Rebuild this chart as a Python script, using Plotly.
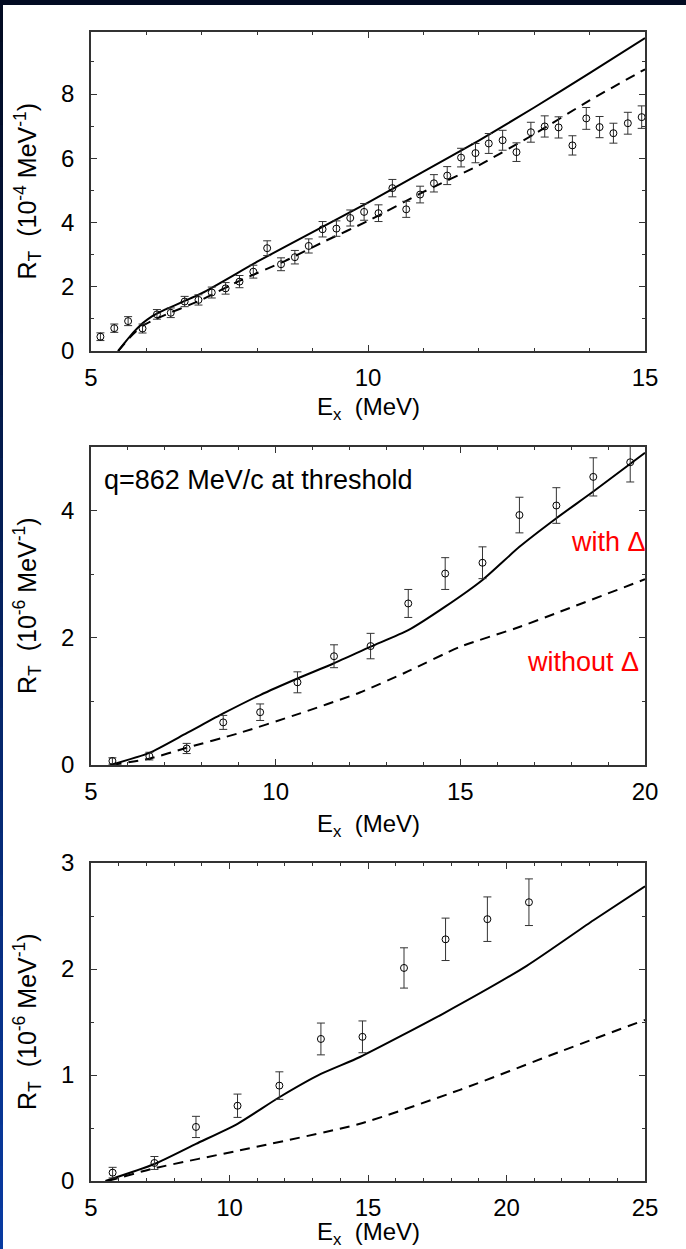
import plotly.graph_objects as go

# ---------------- data ----------------
# Panel 1 (R_T in 1e-4 MeV^-1)
p1_ex = [5.17, 5.42, 5.67, 5.93, 6.19, 6.44, 6.69, 6.94, 7.18, 7.43, 7.68, 7.93, 8.18, 8.43,
         8.68, 8.93, 9.18, 9.43, 9.68, 9.93, 10.19, 10.44, 10.69, 10.94, 11.19, 11.43, 11.68,
         11.94, 12.18, 12.43, 12.68, 12.94, 13.19, 13.44, 13.69, 13.94, 14.18, 14.43, 14.69, 14.94]
p1_rt = [0.445, 0.71, 0.93, 0.70, 1.14, 1.19, 1.54, 1.59, 1.82, 1.95, 2.16, 2.47, 3.20, 2.70,
         2.92, 3.27, 3.79, 3.81, 4.14, 4.33, 4.29, 5.07, 4.41, 4.87, 5.22, 5.46, 6.02,
         6.16, 6.46, 6.56, 6.19, 6.81, 6.99, 6.96, 6.40, 7.24, 6.97, 6.78, 7.09, 7.28]
p1_err = [0.12, 0.13, 0.14, 0.14, 0.15, 0.15, 0.16, 0.16, 0.17, 0.18, 0.19, 0.20, 0.23, 0.20,
          0.21, 0.22, 0.24, 0.24, 0.25, 0.26, 0.26, 0.27, 0.25, 0.26, 0.27, 0.28, 0.29,
          0.30, 0.31, 0.31, 0.29, 0.31, 0.33, 0.33, 0.30, 0.34, 0.33, 0.31, 0.34, 0.35]
p1_with_e = [5.49, 5.7, 5.93, 6.1, 6.25, 7.0, 8.0, 9.0, 10.0, 11.0, 12.0, 13.0, 14.0, 15.0]
p1_with_r = [0.0, 0.45, 0.86, 1.08, 1.22, 1.80, 2.78, 3.70, 4.62, 5.58, 6.55, 7.58, 8.65, 9.74]
p1_wo_e = [5.49, 5.7, 5.93, 6.2, 7.0, 7.7, 8.5, 9.2, 10.0, 11.0, 12.0, 13.0, 14.0, 15.0]
p1_wo_r = [0.0, 0.42, 0.78, 1.02, 1.60, 2.20, 2.80, 3.40, 4.05, 4.95, 5.78, 6.75, 7.80, 8.77]

# Panel 2 (R_T in 1e-6 MeV^-1), q = 862 MeV/c
p2_ex = [5.58, 6.58, 7.59, 8.58, 9.58, 10.59, 11.58, 12.57, 13.59, 14.59, 15.6, 16.6, 17.6, 18.6, 19.6]
p2_rt = [0.063, 0.14, 0.26, 0.67, 0.83, 1.30, 1.71, 1.87, 2.54, 3.01, 3.18, 3.93, 4.08, 4.53, 4.76]
p2_err = [0.05, 0.06, 0.08, 0.11, 0.13, 0.165, 0.18, 0.20, 0.22, 0.25, 0.25, 0.28, 0.28, 0.30, 0.31]
p2_with_e = [5.51, 6.58, 7.59, 8.58, 9.58, 10.59, 11.58, 12.57, 13.59, 14.59, 15.6, 16.6, 17.6, 18.6, 20.0]
p2_with_r = [0.0, 0.19, 0.50, 0.81, 1.10, 1.36, 1.60, 1.86, 2.12, 2.49, 2.91, 3.43, 3.88, 4.30, 4.91]
p2_wo_e = [5.55, 6.58, 7.59, 9.0, 10.5, 12.28, 13.5, 15.0, 16.5, 17.7, 20.0]
p2_wo_r = [0.0, 0.10, 0.27, 0.50, 0.78, 1.14, 1.45, 1.86, 2.15, 2.41, 2.92]

# Panel 3 (R_T in 1e-6 MeV^-1)
p3_ex = [5.78, 7.29, 8.79, 10.29, 11.80, 13.30, 14.80, 16.30, 17.80, 19.31, 20.81]
p3_rt = [0.079, 0.17, 0.51, 0.71, 0.90, 1.34, 1.36, 2.01, 2.28, 2.47, 2.63]
p3_err = [0.05, 0.061, 0.10, 0.11, 0.13, 0.15, 0.15, 0.19, 0.20, 0.21, 0.22]
p3_with_e = [5.52, 7.29, 8.79, 10.29, 11.8, 13.3, 14.71, 17.72, 20.73, 23.14, 25.0]
p3_with_r = [0.0, 0.16, 0.35, 0.54, 0.79, 1.01, 1.17, 1.58, 2.03, 2.46, 2.78]
p3_wo_e = [5.6, 7.29, 10.38, 14.71, 18.32, 21.93, 25.0]
p3_wo_r = [0.0, 0.12, 0.29, 0.54, 0.86, 1.22, 1.52]

x_ranges = [[5, 15], [5, 20], [5, 25]]
y_ranges = [[0, 9.93], [0, 5], [0, 3]]
y_dtick = [2, 2, 1]
y_minor = [1, 1, 0.5]
y_titles = ["R<sub>T</sub>\u00a0\u00a0(10<sup>-4</sup> MeV<sup>-1</sup>)",
            "R<sub>T</sub>\u00a0\u00a0(10<sup>-6</sup> MeV<sup>-1</sup>)",
            "R<sub>T</sub>\u00a0\u00a0(10<sup>-6</sup> MeV<sup>-1</sup>)"]
x_title = "E<sub>x</sub>\u00a0\u00a0(MeV)"
label_text = "q=862 MeV/c at threshold"
with_text = "with \u0394"
without_text = "without \u0394"

# ---------------- figure ----------------
W, H = 686, 1249
L, R, T, B = 91, 41, 32, 68
plot_h = H - T - B
bottom_px = H - B


def py(pix):
    return (bottom_px - pix) / plot_h


def px(pix):
    return (pix - L) / (W - L - R)


panels_px = [(32, 351), (447, 765), (863, 1181)]
FONT = "Liberation Sans, Arial, Helvetica, sans-serif"

fig = go.Figure()
datasets = [
    (p1_ex, p1_rt, p1_err, p1_with_e, p1_with_r, p1_wo_e, p1_wo_r),
    (p2_ex, p2_rt, p2_err, p2_with_e, p2_with_r, p2_wo_e, p2_wo_r),
    (p3_ex, p3_rt, p3_err, p3_with_e, p3_with_r, p3_wo_e, p3_wo_r),
]
for i, (ex, rt, err, we, wr, oe, orr) in enumerate(datasets):
    xa = "x" if i == 0 else f"x{i+1}"
    ya = "y" if i == 0 else f"y{i+1}"
    fig.add_trace(go.Scatter(x=oe, y=orr, mode="lines", xaxis=xa, yaxis=ya,
                             line=dict(color="black", width=2, dash="10px,7px",
                                       shape="spline", smoothing=0.6),
                             showlegend=False, hoverinfo="skip"))
    fig.add_trace(go.Scatter(x=we, y=wr, mode="lines", xaxis=xa, yaxis=ya,
                             line=dict(color="black", width=2, shape="spline", smoothing=0.6),
                             showlegend=False, hoverinfo="skip"))
    fig.add_trace(go.Scatter(x=ex, y=rt, mode="markers", xaxis=xa, yaxis=ya,
                             marker=dict(symbol="circle-open", size=7, color="black",
                                         line=dict(width=1, color="black")),
                             error_y=dict(type="data", array=err, visible=True,
                                          color="#333333", thickness=1, width=4),
                             showlegend=False))

common = dict(showline=True, linecolor="#333333", linewidth=1.5, mirror="ticks",
              ticks="inside", ticklen=6, tickwidth=1.2, tickcolor="#333333",
              showgrid=False, zeroline=False,
              tickfont=dict(family=FONT, size=24, color="black"))

layout = dict(width=W, height=H, autosize=False,
              margin=dict(l=L, r=R, t=T, b=B, pad=0),
              paper_bgcolor="white", plot_bgcolor="white",
              font=dict(family=FONT, color="black"), showlegend=False)

annotations = []
for i, (top, bot) in enumerate(panels_px):
    sx = "" if i == 0 else str(i + 1)
    layout[f"xaxis{sx}"] = dict(common, domain=[0, 1], anchor=f"y{sx}", range=x_ranges[i],
                                 dtick=5, tick0=5, ticklabelstandoff=4,
                                 minor=dict(ticks="inside", ticklen=3, tickcolor="#333333",
                                            dtick=1, tick0=5, showgrid=False))
    layout[f"yaxis{sx}"] = dict(common, domain=[py(bot), py(top)], anchor=f"x{sx}",
                                 range=y_ranges[i], dtick=y_dtick[i], tick0=0,
                                 ticklabelstandoff=10,
                                 minor=dict(ticks="inside", ticklen=3, tickcolor="#333333",
                                            dtick=y_minor[i], tick0=0, showgrid=False))
    annotations.append(dict(text=y_titles[i], xref="paper", yref="paper",
                            x=px(27), y=py((top + bot) / 2), xanchor="center", yanchor="middle",
                            textangle=-90, showarrow=False,
                            font=dict(family=FONT, size=25, color="black")))

for cy in [408, 825, 1233]:
    annotations.append(dict(text=x_title, xref="paper", yref="paper",
                            x=px(368), y=py(cy), xanchor="center", yanchor="middle",
                            showarrow=False, font=dict(family=FONT, size=24, color="black")))

annotations.append(dict(text=label_text, xref="x2", yref="y2",
                        x=5.3, y=4.48, xanchor="left", yanchor="middle", showarrow=False,
                        font=dict(family=FONT, size=27, color="black")))
annotations.append(dict(text=with_text, xref="x2", yref="y2",
                        x=19.01, y=3.51, xanchor="center", yanchor="middle", showarrow=False,
                        font=dict(family=FONT, size=27, color="#ff0000")))
annotations.append(dict(text=without_text, xref="x2", yref="y2",
                        x=18.31, y=1.62, xanchor="center", yanchor="middle", showarrow=False,
                        font=dict(family=FONT, size=27, color="#ff0000")))
layout["annotations"] = annotations

# slide frame (dark band top, gradient band left)
shapes = [dict(type="rect", xref="paper", yref="paper", x0=px(0), x1=px(W), y0=py(5), y1=py(0),
               fillcolor="#020b22", line=dict(width=0), layer="above")]
n = 30
c0 = (2, 11, 34)
c1 = (8, 58, 160)
for k in range(n):
    t = k / (n - 1)
    col = "rgb(%d,%d,%d)" % tuple(int(round(a + (b - a) * t)) for a, b in zip(c0, c1))
    y0p = H * k / n
    y1p = H * (k + 1) / n + 1
    shapes.append(dict(type="rect", xref="paper", yref="paper", x0=px(0), x1=px(3),
                       y0=py(y1p), y1=py(y0p), fillcolor=col, line=dict(width=0), layer="above"))
layout["shapes"] = shapes

fig.update_layout(**layout)
fig.write_html("out.html")
